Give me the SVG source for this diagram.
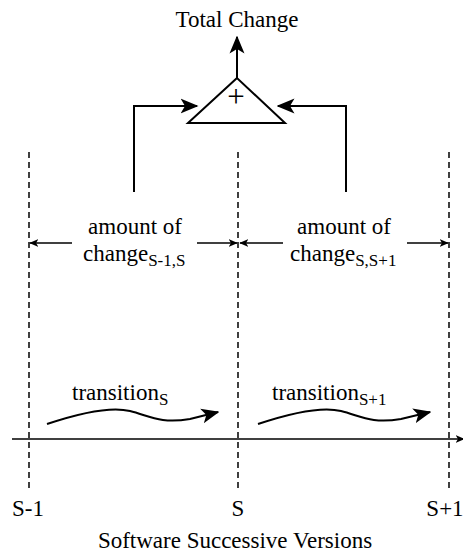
<svg xmlns="http://www.w3.org/2000/svg" width="463" height="558" viewBox="0 0 463 558">
  <style>
    text { font-family: "Liberation Serif", "Times New Roman", serif; fill: #000; }
    .lbl { font-size: 23px; }
    .sub { font-size: 17px; }
    .mid { text-anchor: middle; }
    .line { fill: none; stroke: #000; stroke-width: 2; }
    .thin { fill: none; stroke: #000; stroke-width: 1.5; }
    .dash { fill: none; stroke: #000; stroke-width: 1.5; stroke-dasharray: 6 4; }
  </style>
  <defs>
    <marker id="head" viewBox="0 0 12 10" refX="11" refY="5" markerWidth="9" markerHeight="8" markerUnits="userSpaceOnUse" orient="auto">
      <path d="M0,0 L12,5 L0,10 L3,5 z" fill="#000"/>
    </marker>
    <marker id="bigHead" viewBox="0 0 12 10" refX="11" refY="5" markerWidth="18" markerHeight="16" markerUnits="userSpaceOnUse" orient="auto">
      <path d="M0,0 L12,5 L0,10 L3,5 z" fill="#000"/>
    </marker>
  </defs>

  <!-- version boundaries -->
  <g id="versions">
    <line class="dash" x1="29" y1="152" x2="29" y2="492"/>
    <line class="dash" x1="238" y1="152" x2="238" y2="492"/>
    <line class="dash" x1="449" y1="152" x2="449" y2="492"/>
  </g>

  <!-- summing node -->
  <g id="sum">
    <polygon points="237,78 188,123 285,123" fill="#fff" stroke="#000" stroke-width="2"/>
    <text class="mid" x="236" y="107" style="font-size:31px">+</text>
  </g>

  <g id="total">
    <text class="lbl mid" x="237" y="27">Total Change</text>
  </g>

  <g id="change-left">
    <text class="lbl mid" x="135" y="234">amount of</text>
    <text class="lbl" x="83" y="261">change<tspan class="sub" dy="5">S-1,S</tspan></text>
  </g>

  <g id="change-right">
    <text class="lbl mid" x="344" y="234">amount of</text>
    <text class="lbl" x="290" y="261">change<tspan class="sub" dy="5">S,S+1</tspan></text>
  </g>

  <g id="transition-left">
    <text class="lbl" x="72" y="400">transition<tspan class="sub" dy="5">S</tspan></text>
  </g>

  <g id="transition-right">
    <text class="lbl" x="272" y="400">transition<tspan class="sub" dy="5">S+1</tspan></text>
  </g>

  <g id="version-labels">
    <text class="lbl mid" x="28" y="516">S-1</text>
    <text class="lbl mid" x="238" y="516">S</text>
    <text class="lbl mid" x="445" y="516">S+1</text>
    <text class="lbl mid" x="235" y="548">Software Successive Versions</text>
  </g>

  <!-- connectors -->
  <g id="connectors">
    <line class="line" x1="237" y1="78" x2="237" y2="37" marker-end="url(#bigHead)"/>
    <path class="line" d="M134,192 V106 H197" marker-end="url(#bigHead)"/>
    <path class="line" d="M346,192 V106 H278" marker-end="url(#bigHead)"/>

    <line class="thin" x1="72" y1="243" x2="30" y2="243" marker-end="url(#head)"/>
    <line class="thin" x1="197" y1="243" x2="237" y2="243" marker-end="url(#head)"/>
    <line class="thin" x1="283" y1="243" x2="240" y2="243" marker-end="url(#head)"/>
    <line class="thin" x1="407" y1="243" x2="448" y2="243" marker-end="url(#head)"/>

    <path class="line" d="M47,424 C80,413 110,406 130,411 C150,416 160,424 190,419 L218,412" marker-end="url(#bigHead)"/>
    <path class="line" d="M258,424 C291,413 321,406 341,411 C361,416 371,424 401,419 L430,412" marker-end="url(#bigHead)"/>

    <line class="thin" x1="12" y1="439" x2="464" y2="439" marker-end="url(#head)"/>
  </g>
</svg>
